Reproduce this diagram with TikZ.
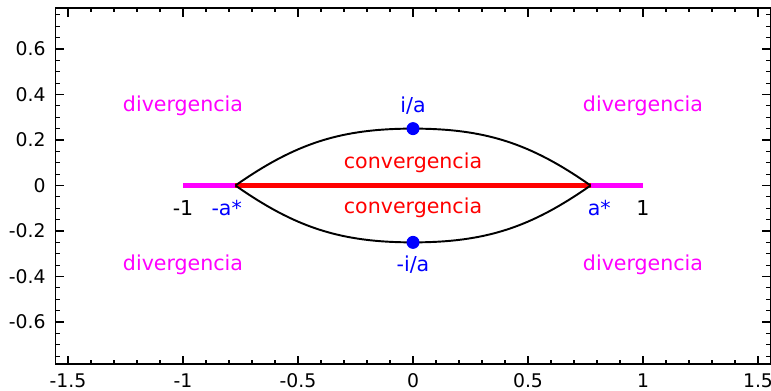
\documentclass[tikz,border=0pt]{standalone}
\usepackage{fontspec}
\setmainfont{DejaVu Sans}
\definecolor{mag}{RGB}{255,0,255}
\definecolor{blu}{RGB}{0,0,255}

\begin{document}
\begin{tikzpicture}[x=4.6cm, y=4.55cm,
    lbl/.style={font=\fontsize{11.7}{14}\selectfont, inner sep=0pt},
    ticklbl/.style={font=\fontsize{10.7}{13}\selectfont, inner sep=0pt},
    dot/.style={circle, fill=blu, inner sep=0pt, minimum size=0.26cm},
    thickline/.style={line width=3.4pt}]

        \useasboundingbox (-1.7957,-0.9033) rectangle (1.5565,0.8154);

        % --- AXES ---
        \draw[line width=0.8pt] (-1.555,-0.785) rectangle (1.555,0.78);
        \foreach \i in {-15,...,15} {
            \draw[line width=0.6pt] (\i/10,-0.785) -- ++(0,0.085cm);
            \draw[line width=0.6pt] (\i/10,0.78) -- ++(0,-0.085cm);
            \draw[line width=0.6pt] (-1.555,\i/20) -- ++(0.085cm,0);
            \draw[line width=0.6pt] (1.555,\i/20) -- ++(-0.085cm,0);
        }
        \foreach \x/\t in {-1.5/-1.5, -1/-1, -0.5/-0.5, 0/0, 0.5/0.5, 1/1, 1.5/1.5} {
            \draw[line width=0.6pt] (\x,-0.785) -- ++(0,0.17cm);
            \draw[line width=0.6pt] (\x,0.78) -- ++(0,-0.17cm);
            \node[ticklbl, below=0.18cm] at (\x,-0.785) {\t};
        }
        \foreach \y/\t in {-0.6/-0.6, -0.4/-0.4, -0.2/-0.2, 0/0, 0.2/0.2, 0.4/0.4, 0.6/0.6} {
            \draw[line width=0.6pt] (-1.555,\y) -- ++(0.17cm,0);
            \draw[line width=0.6pt] (1.555,\y) -- ++(-0.17cm,0);
            \node[ticklbl, left=0.19cm] at (-1.555,\y) {\t};
        }

        % --- REAL SEGMENT ---
        \coordinate (mone) at (-1,0);
        \coordinate (one) at (1,0);
        \coordinate (ma) at (-0.772,0);
        \coordinate (pa) at (0.772,0);
        \draw[thickline, mag] (mone) -- (one);
        \draw[thickline, red] (ma) -- (pa);

        % Lens
        \coordinate (ia) at (0,0.25);
        \coordinate (mia) at (0,-0.25);
        \draw[line width=1.1pt] (ma) to[out=35, in=180] (ia) to[out=0, in=145] (pa);
        \draw[line width=1.1pt] (ma) to[out=-35, in=180] (mia) to[out=0, in=-145] (pa);
        \node[dot] (iadot) at (ia) {};
        \node[dot] (miadot) at (mia) {};

        % Labels
        \node[lbl, text=blu] (ialbl) at (0,0.35) {i/a};
        \node[lbl, text=blu] (mialbl) at (0,-0.35) {-i/a};
        \node[lbl, text=red] (convup) at (0,0.1) {convergencia};
        \node[lbl, text=red] (convdn) at (0,-0.1) {convergencia};
        \node[lbl] (monelbl) at (-1,-0.1) {-1};
        \node[lbl] (onelbl) at (1,-0.1) {1};
        \node[lbl, text=blu] (malbl) at (-0.81,-0.1) {-a*};
        \node[lbl, text=blu] (palbl) at (0.81,-0.1) {a*};
        \foreach \x/\y/\n in {-1/0.35/ul, 1/0.35/ur, -1/-0.35/dl, 1/-0.35/dr} {
            \node[lbl, text=mag] (div\n) at (\x,\y) {divergencia};
        }

\end{tikzpicture}
\end{document}
